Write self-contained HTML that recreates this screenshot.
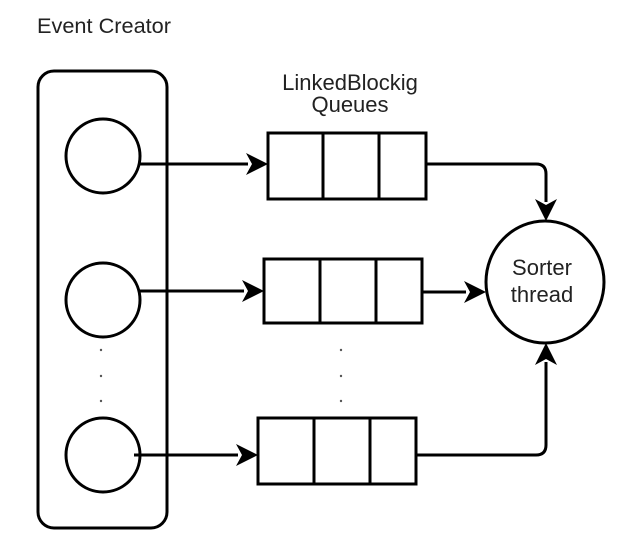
<!DOCTYPE html>
<html><head><meta charset="utf-8"><style>
html,body{margin:0;padding:0;background:#fff;}
svg{display:block;}
text{font-family:"Liberation Sans",sans-serif;fill:#222;}
</style></head><body>
<svg width="626" height="552" viewBox="0 0 626 552" xmlns="http://www.w3.org/2000/svg">
<g fill="none" stroke="#000" stroke-width="3">
<rect x="38" y="71" width="129" height="457" rx="16"/>
<ellipse cx="103" cy="156" rx="37" ry="37"/>
<ellipse cx="103" cy="300" rx="37" ry="37"/>
<ellipse cx="103" cy="455" rx="37" ry="37"/>
<rect x="268" y="133" width="158" height="66"/>
<line x1="323" y1="133" x2="323" y2="199"/><line x1="379" y1="133" x2="379" y2="199"/>
<rect x="264" y="259" width="158" height="64"/>
<line x1="320" y1="259" x2="320" y2="323"/><line x1="376" y1="259" x2="376" y2="323"/>
<rect x="258" y="418" width="158" height="66"/>
<line x1="314" y1="418" x2="314" y2="484"/><line x1="370" y1="418" x2="370" y2="484"/>
<ellipse cx="545" cy="282" rx="59" ry="61"/>
</g>
<g stroke="#000" stroke-width="3" fill="none">
<line x1="140" y1="164" x2="248" y2="164"/>
<line x1="140" y1="291" x2="244" y2="291"/>
<line x1="134" y1="455" x2="238" y2="455"/>
<line x1="422" y1="292" x2="466" y2="292"/>
<path d="M427 164 H536 Q546 164 546 174 V202"/>
<path d="M416 455 H536 Q546 455 546 445 V362"/>
</g>
<g fill="#000">
<path d="M268 164 L246 153 L252 164 L246 175 z"/>
<path d="M264 291 L242 280 L248 291 L242 302 z"/>
<path d="M258 455 L236 444 L242 455 L236 466 z"/>
<path d="M486 292 L464 281 L470 292 L464 303 z"/>
<path d="M546 221 L535 199 L546 205 L557 199 z"/>
<path d="M546 343 L535 365 L546 359 L557 365 z"/>
</g>
<g fill="#555">
<circle cx="101" cy="350" r="1.2"/><circle cx="101" cy="376" r="1.2"/><circle cx="101" cy="401" r="1.2"/>
<circle cx="341" cy="350" r="1.2"/><circle cx="341" cy="376" r="1.2"/><circle cx="341" cy="401" r="1.2"/>
</g>
<text x="37" y="33" font-size="21" textLength="134" lengthAdjust="spacingAndGlyphs">Event Creator</text>
<text x="350" y="90" font-size="22" text-anchor="middle">LinkedBlockig</text>
<text x="350" y="112" font-size="22" text-anchor="middle">Queues</text>
<text x="542" y="275" font-size="22" text-anchor="middle">Sorter</text>
<text x="542" y="302" font-size="22" text-anchor="middle">thread</text>
</svg>
</body></html>
